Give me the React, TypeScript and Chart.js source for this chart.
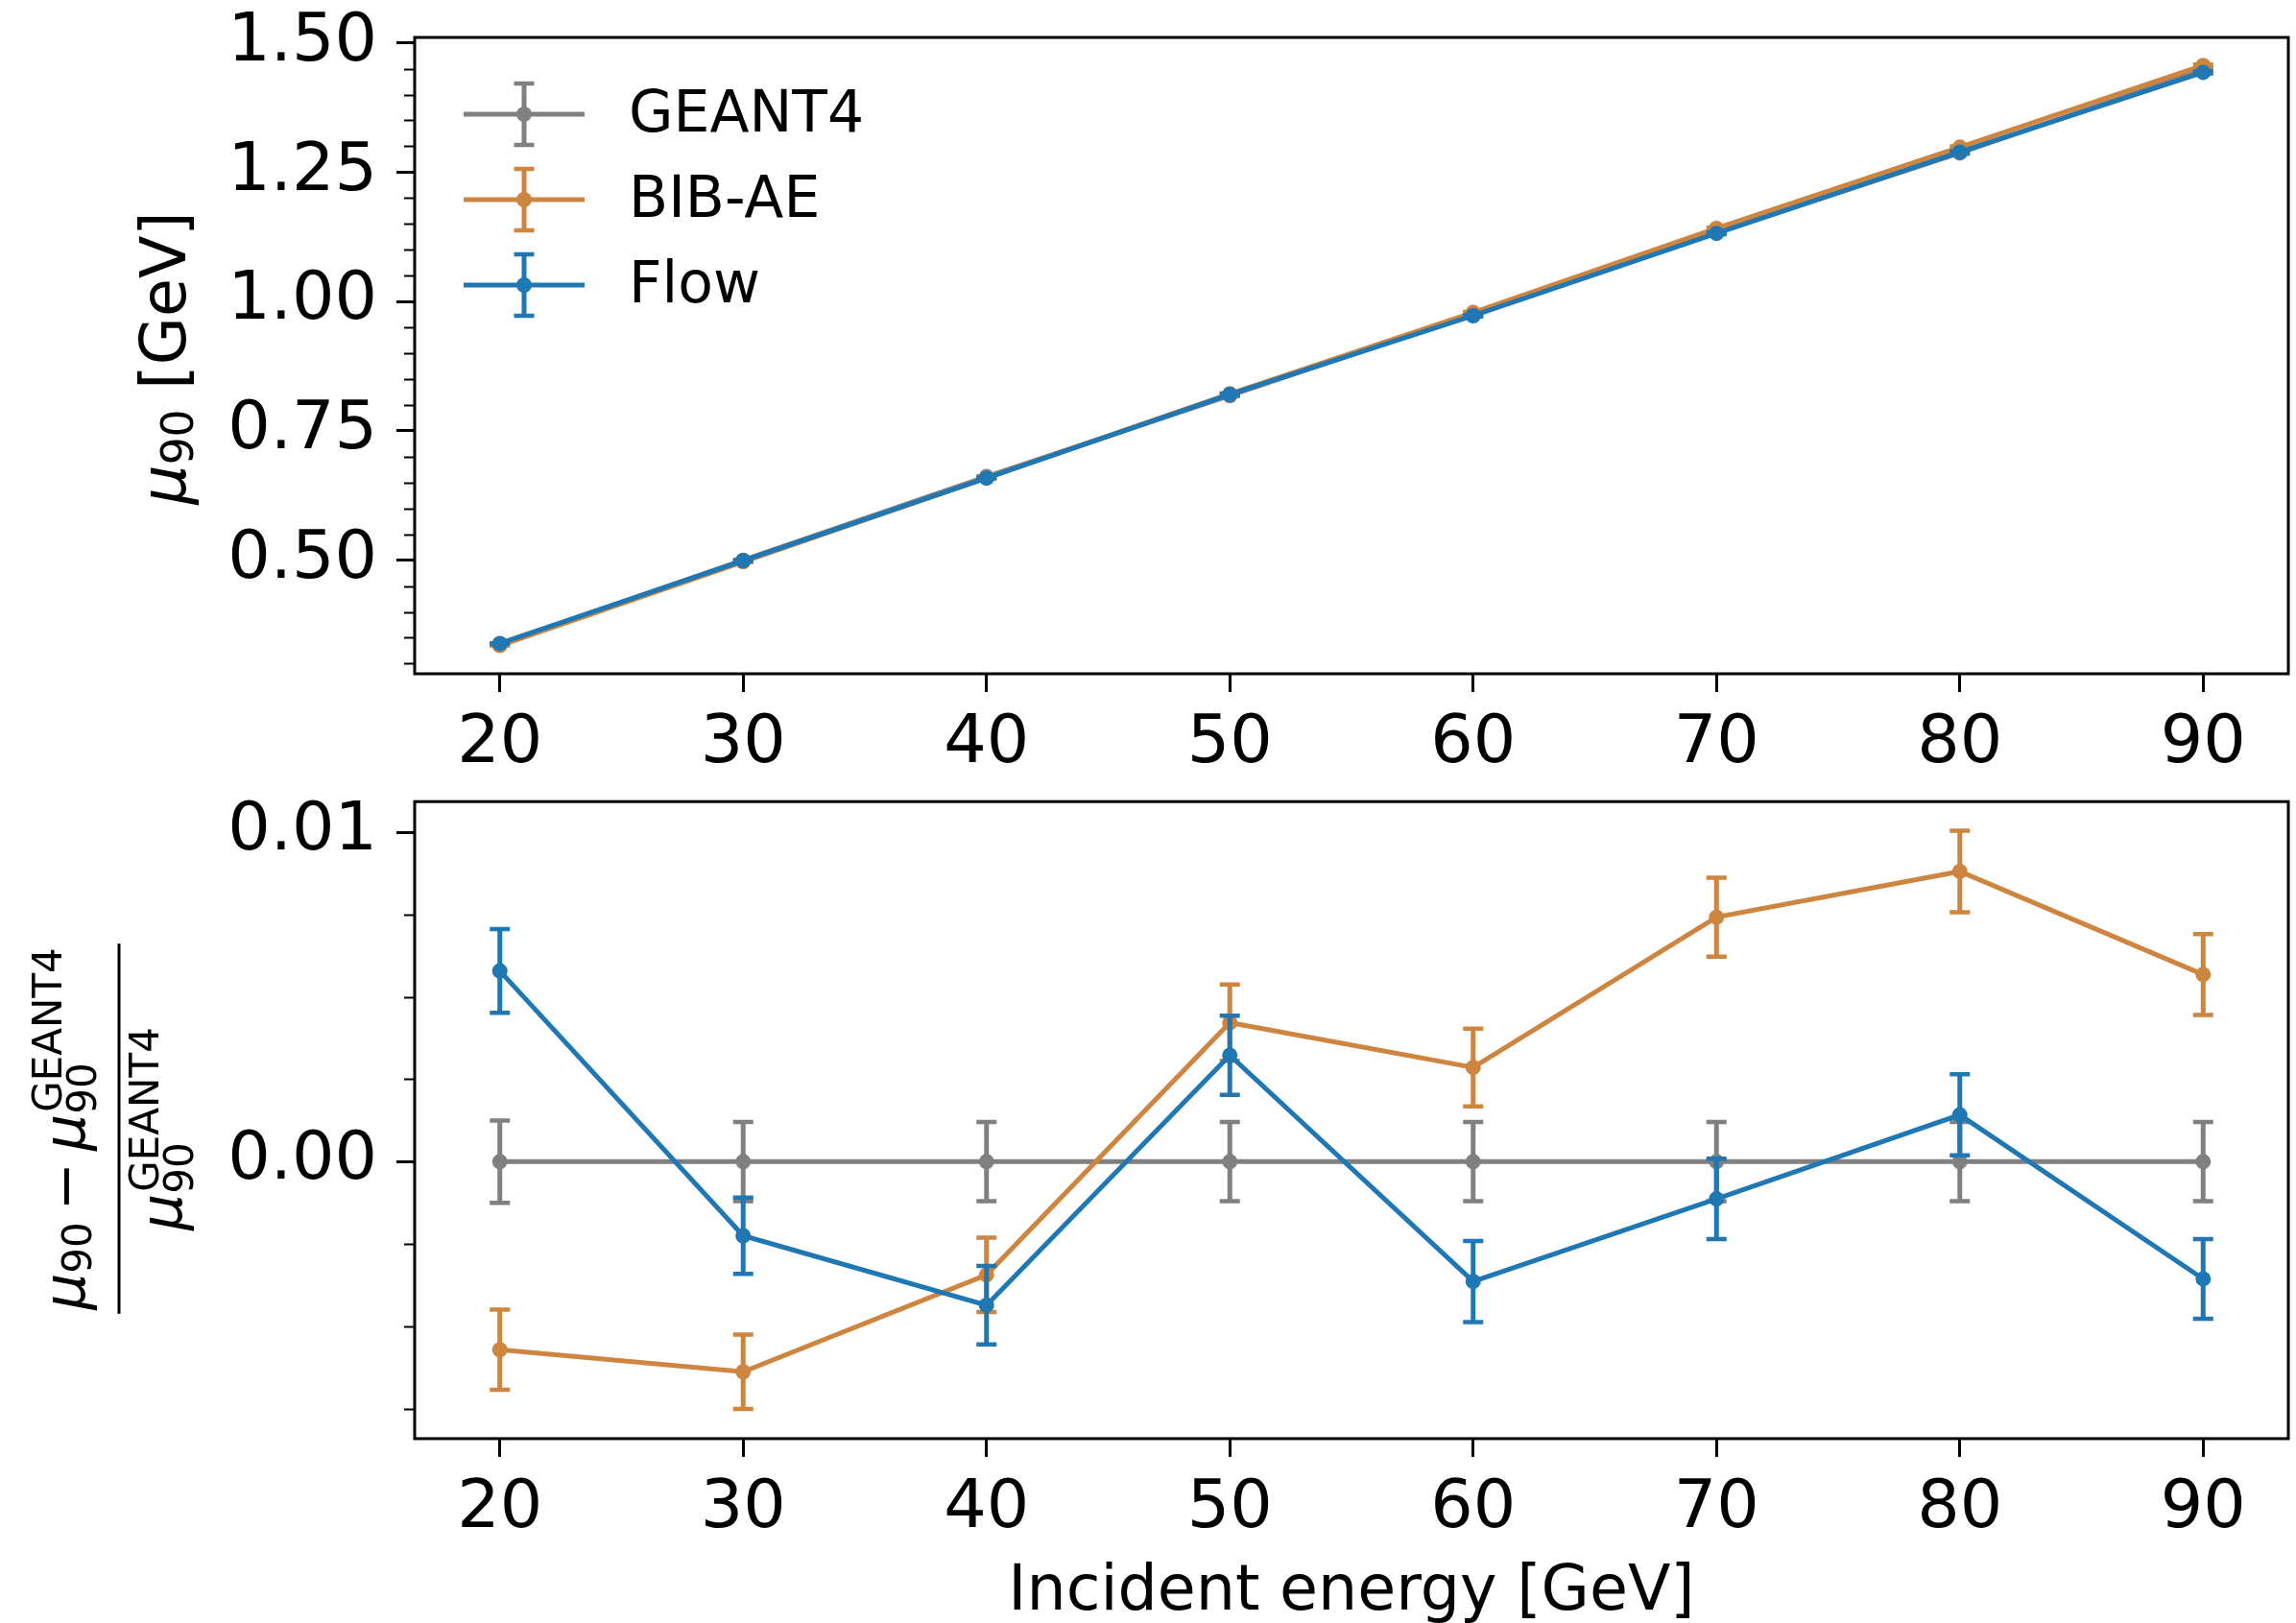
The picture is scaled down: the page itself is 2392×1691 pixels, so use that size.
import React, { useEffect, useRef } from 'react';
import { Chart, registerables } from 'chart.js';

Chart.register(...registerables);

// ---------------- data ----------------
const energies = [20, 30, 40, 50, 60, 70, 80, 90];

const geant4Mu = [0.337, 0.5, 0.6615, 0.818, 0.976, 1.133, 1.287, 1.448];
const bibaeMu = [0.3351, 0.4968, 0.6592, 0.8215, 0.9788, 1.1414, 1.2983, 1.4562];
const flowMu = [0.339, 0.4989, 0.6586, 0.8206, 0.9724, 1.1317, 1.2888, 1.4428];
const geant4MuErr = [0.0004, 0.0006, 0.0008, 0.001, 0.0012, 0.0014, 0.0015, 0.0017];
const bibaeMuErr = [0.0004, 0.0006, 0.0007, 0.001, 0.0012, 0.0014, 0.0016, 0.0018];
const flowMuErr = [0.0004, 0.0006, 0.0008, 0.001, 0.0012, 0.0014, 0.0016, 0.0018];

const geant4Rel = [0, 0, 0, 0, 0, 0, 0, 0];
const bibaeRel = [-0.00571, -0.00638, -0.00344, 0.00422, 0.00286, 0.00742, 0.00881, 0.00568];
const flowRel = [0.00579, -0.00225, -0.00436, 0.00323, -0.00364, -0.00113, 0.00142, -0.00356];
const geant4RelErr = [0.00125, 0.0012, 0.0012, 0.0012, 0.0012, 0.0012, 0.0012, 0.0012];
const bibaeRelErr = [0.00122, 0.00113, 0.00113, 0.00116, 0.00118, 0.0012, 0.00124, 0.00123];
const flowRelErr = [0.00127, 0.00116, 0.00119, 0.0012, 0.00123, 0.00122, 0.00123, 0.00121];

const xTicks = [20, 30, 40, 50, 60, 70, 80, 90];
const topYTicks = [0.5, 0.75, 1.0, 1.25, 1.5];
const topYMinorTicks = [0.3, 0.35, 0.4, 0.45, 0.55, 0.6, 0.65, 0.7, 0.8, 0.85, 0.9, 0.95, 1.05, 1.1, 1.15, 1.2, 1.3, 1.35, 1.4, 1.45];
const bottomYTicks = [0, 0.01];
const bottomYMinorTicks = [-0.0075, -0.005, -0.0025, 0.0025, 0.005, 0.0075];

const seriesNames = ['GEANT4', 'BIB-AE', 'Flow'];
const seriesColors = ['#808080', '#cd853f', '#1f77b4'];

// ---------------- style ----------------
const FONT = "'DejaVu Sans'";
const W = 2392;
const TOP_H = 800;
const BOT_TOP = 800;
const BOT_H = 905;
const LINE_W = 5;
const CAP_HALF = 10.5;
const CAP_LW = 4.5;
const MARKER_R = 8;
const SPINE_W = 3;

function xScaleCfg(height: number, withTitle: boolean) {
  return {
    type: 'linear',
    min: 16.5,
    max: 93.5,
    bounds: 'data',
    afterBuildTicks: (s: any) => {
      s.ticks = xTicks.map((v) => ({ value: v }));
    },
    afterFit: (s: any) => {
      s.height = height;
      s.paddingLeft = 0;
      s.paddingRight = 0;
      s.paddingTop = 0;
      s.paddingBottom = 0;
    },
    ticks: {
      color: '#000',
      font: { family: FONT, size: 70 },
      padding: 13,
      maxRotation: 0,
      minRotation: 0,
      autoSkip: false,
      callback: (v: any) => String(v),
    },
    grid: {
      display: true,
      drawOnChartArea: false,
      drawTicks: true,
      tickLength: 19,
      tickWidth: 3,
      tickColor: '#000',
      color: '#000',
    },
    border: { display: false },
    title: withTitle
      ? {
          display: true,
          text: 'Incident energy [GeV]',
          color: '#000',
          font: { family: FONT, size: 65 },
          padding: { top: 0, bottom: 6 },
        }
      : { display: false },
  };
}

function yScaleCfg(min: number, max: number, ticks: number[]) {
  return {
    type: 'linear',
    min,
    max,
    bounds: 'data',
    afterBuildTicks: (s: any) => {
      s.ticks = ticks.map((v) => ({ value: v }));
    },
    afterFit: (s: any) => {
      s.width = 432;
      s.paddingLeft = 0;
      s.paddingRight = 0;
      s.paddingTop = 0;
      s.paddingBottom = 0;
    },
    ticks: {
      color: '#000',
      font: { family: FONT, size: 70 },
      padding: 20,
      autoSkip: false,
      callback: (v: any) => Number(v).toFixed(2),
    },
    grid: {
      display: true,
      drawOnChartArea: false,
      drawTicks: true,
      tickLength: 19,
      tickWidth: 3,
      tickColor: '#000',
      color: '#000',
    },
    border: { display: false },
  };
}

function makeDatasets(valsList: number[][]) {
  return seriesNames.map((name, i) => ({
    label: name,
    data: energies.map((x, j) => ({ x, y: valsList[i][j] })),
    borderColor: seriesColors[i],
    backgroundColor: seriesColors[i],
    borderWidth: LINE_W,
    pointRadius: MARKER_R,
    pointHoverRadius: MARKER_R,
    pointBorderWidth: 0,
    pointBackgroundColor: seriesColors[i],
    pointBorderColor: seriesColors[i],
    tension: 0,
    fill: false,
    order: 3 - i,
  }));
}

function drawErrorBar(ctx: CanvasRenderingContext2D, x: number, y1: number, y2: number, color: string) {
  ctx.save();
  ctx.strokeStyle = color;
  ctx.lineCap = 'butt';
  ctx.lineWidth = LINE_W;
  ctx.beginPath();
  ctx.moveTo(x, y1);
  ctx.lineTo(x, y2);
  ctx.stroke();
  ctx.lineWidth = CAP_LW;
  ctx.beginPath();
  ctx.moveTo(x - CAP_HALF, y1);
  ctx.lineTo(x + CAP_HALF, y1);
  ctx.moveTo(x - CAP_HALF, y2);
  ctx.lineTo(x + CAP_HALF, y2);
  ctx.stroke();
  ctx.restore();
}

function makePlugin(valsList: number[][], errsList: number[][], minorTicks: number[], drawExtra: (chart: any) => void) {
  return {
    id: 'custom' + Math.random().toString(36).slice(2),
    beforeDatasetDraw(chart: any, args: any) {
      const i = args.index;
      const ctx = chart.ctx;
      const xs = chart.scales.x;
      const ys = chart.scales.y;
      const vals = valsList[i];
      const errs = errsList[i];
      for (let j = 0; j < energies.length; j++) {
        const x = xs.getPixelForValue(energies[j]);
        const y1 = ys.getPixelForValue(vals[j] + errs[j]);
        const y2 = ys.getPixelForValue(vals[j] - errs[j]);
        drawErrorBar(ctx, x, y1, y2, seriesColors[i]);
      }
    },
    afterDraw(chart: any) {
      const ctx = chart.ctx;
      const { left, top, right, bottom } = chart.chartArea;
      const ys = chart.scales.y;
      ctx.save();
      ctx.strokeStyle = '#000';
      ctx.lineWidth = 2.2;
      ctx.beginPath();
      for (const v of minorTicks) {
        const y = Math.round(ys.getPixelForValue(v)) + 0.5;
        ctx.moveTo(left - 11, y);
        ctx.lineTo(left, y);
      }
      ctx.stroke();
      ctx.lineWidth = SPINE_W;
      ctx.strokeRect(left, top, right - left, bottom - top);
      ctx.restore();
      drawExtra(chart);
    },
  };
}

function drawTopExtras(chart: any) {
  const ctx: CanvasRenderingContext2D = chart.ctx;
  // y label: mu_90 [GeV]
  ctx.save();
  ctx.fillStyle = '#000';
  ctx.textAlign = 'left';
  ctx.textBaseline = 'alphabetic';
  ctx.translate(193, 373);
  ctx.rotate(-Math.PI / 2);
  const F = 65;
  const S = 45.5;
  const fMu = `italic ${F}px ${FONT}`;
  const fS = `${S}px ${FONT}`;
  const fR = `${F}px ${FONT}`;
  ctx.font = fMu;
  const wMu = ctx.measureText('μ').width;
  ctx.font = fS;
  const w90 = ctx.measureText('90').width;
  ctx.font = fR;
  const wSp = ctx.measureText(' ').width;
  const wG = ctx.measureText('[GeV]').width;
  const total = wMu + w90 + wSp + wG;
  let u = -total / 2;
  ctx.font = fMu;
  ctx.fillText('μ', u, 0);
  u += wMu;
  ctx.font = fS;
  ctx.fillText('90', u, 8);
  u += w90 + wSp;
  ctx.font = fR;
  ctx.fillText('[GeV]', u, 0);
  ctx.restore();

  // legend
  const ys = [119, 208, 297];
  ctx.save();
  for (let i = 0; i < 3; i++) {
    const y = ys[i];
    const c = seriesColors[i];
    ctx.strokeStyle = c;
    ctx.lineWidth = LINE_W;
    ctx.beginPath();
    ctx.moveTo(483, y);
    ctx.lineTo(609, y);
    ctx.stroke();
    drawErrorBar(ctx, 546, y - 32, y + 32, c);
    ctx.fillStyle = c;
    ctx.beginPath();
    ctx.arc(546, y, MARKER_R, 0, Math.PI * 2);
    ctx.fill();
    ctx.fillStyle = '#000';
    ctx.font = `60px ${FONT}`;
    ctx.textAlign = 'left';
    ctx.textBaseline = 'middle';
    ctx.fillText(seriesNames[i], 655, y + 2);
  }
  ctx.restore();
}

function drawBottomExtras(chart: any) {
  const ctx: CanvasRenderingContext2D = chart.ctx;
  const F = 60;
  const S = 42;
  const fMu = `italic ${F}px ${FONT}`;
  const fS = `${S}px ${FONT}`;
  const fR = `${F}px ${FONT}`;
  ctx.save();
  ctx.fillStyle = '#000';
  ctx.textAlign = 'left';
  ctx.textBaseline = 'alphabetic';
  ctx.translate(124, 1176 - BOT_TOP);
  ctx.rotate(-Math.PI / 2);

  ctx.font = fMu;
  const wMu = ctx.measureText('μ').width;
  ctx.font = fS;
  const w90 = ctx.measureText('90').width;
  const wGe = ctx.measureText('GEANT4').width;
  ctx.font = fR;
  const wMinus = ctx.measureText('−').width;
  const gap = 12;

  // numerator
  const numBase = -36;
  const numW = wMu + w90 + gap + wMinus + gap + wMu + 2 + Math.max(w90, wGe);
  let u = -numW / 2;
  ctx.font = fMu;
  ctx.fillText('μ', u, numBase);
  u += wMu;
  ctx.font = fS;
  ctx.fillText('90', u, numBase + 7);
  u += w90 + gap;
  ctx.font = fR;
  ctx.fillText('−', u, numBase);
  u += wMinus + gap;
  ctx.font = fMu;
  ctx.fillText('μ', u, numBase);
  u += wMu;
  ctx.font = fS;
  ctx.fillText('90', u, numBase + 12);
  ctx.fillText('GEANT4', u + 2, numBase - 24);

  // bar
  const barHalf = numW / 2 + 4;
  ctx.fillRect(-barHalf, -1.5, barHalf * 2, 3);

  // denominator
  const denBase = 65;
  const denW = wMu + 2 + Math.max(w90, wGe);
  u = -denW / 2;
  ctx.font = fMu;
  ctx.fillText('μ', u, denBase);
  u += wMu;
  ctx.font = fS;
  ctx.fillText('90', u, denBase + 12);
  ctx.fillText('GEANT4', u + 2, denBase - 24);
  ctx.restore();
}

function baseOptions(padTop: number, yCfg: any, xCfg: any) {
  return {
    animation: false,
    responsive: false,
    maintainAspectRatio: false,
    devicePixelRatio: 1,
    events: [],
    layout: { padding: { top: padTop, right: 4.4, left: 0, bottom: 0 } },
    plugins: { legend: { display: false }, tooltip: { enabled: false } },
    scales: { x: xCfg, y: yCfg },
  };
}

export default function App() {
  const topRef = useRef<HTMLCanvasElement>(null);
  const botRef = useRef<HTMLCanvasElement>(null);

  useEffect(() => {
    Chart.defaults.font.family = FONT;
    const topVals = [geant4Mu, bibaeMu, flowMu];
    const topErrs = [geant4MuErr, bibaeMuErr, flowMuErr];
    const botVals = [geant4Rel, bibaeRel, flowRel];
    const botErrs = [geant4RelErr, bibaeRelErr, flowRelErr];

    const topChart = new Chart(topRef.current as HTMLCanvasElement, {
      type: 'line',
      data: { datasets: makeDatasets(topVals) as any },
      options: baseOptions(39, yScaleCfg(0.2804, 1.5104, topYTicks), xScaleCfg(TOP_H - 702, false)) as any,
      plugins: [makePlugin(topVals, topErrs, topYMinorTicks, drawTopExtras)],
    });
    const botChart = new Chart(botRef.current as HTMLCanvasElement, {
      type: 'line',
      data: { datasets: makeDatasets(botVals) as any },
      options: baseOptions(835.2 - BOT_TOP, yScaleCfg(-0.00841, 0.01093, bottomYTicks), xScaleCfg(BOT_H - (1498.9 - BOT_TOP), true)) as any,
      plugins: [makePlugin(botVals, botErrs, bottomYMinorTicks, drawBottomExtras)],
    });
    return () => {
      topChart.destroy();
      botChart.destroy();
    };
  }, []);

  return (
    <div style={{ position: 'absolute', left: 0, top: 0, width: W, height: 1691, overflow: 'hidden', background: '#fff' }}>
      <canvas ref={topRef} width={W} height={TOP_H} style={{ position: 'absolute', left: 0, top: 0, width: W, height: TOP_H }} />
      <canvas ref={botRef} width={W} height={BOT_H} style={{ position: 'absolute', left: 0, top: BOT_TOP, width: W, height: BOT_H }} />
    </div>
  );
}
